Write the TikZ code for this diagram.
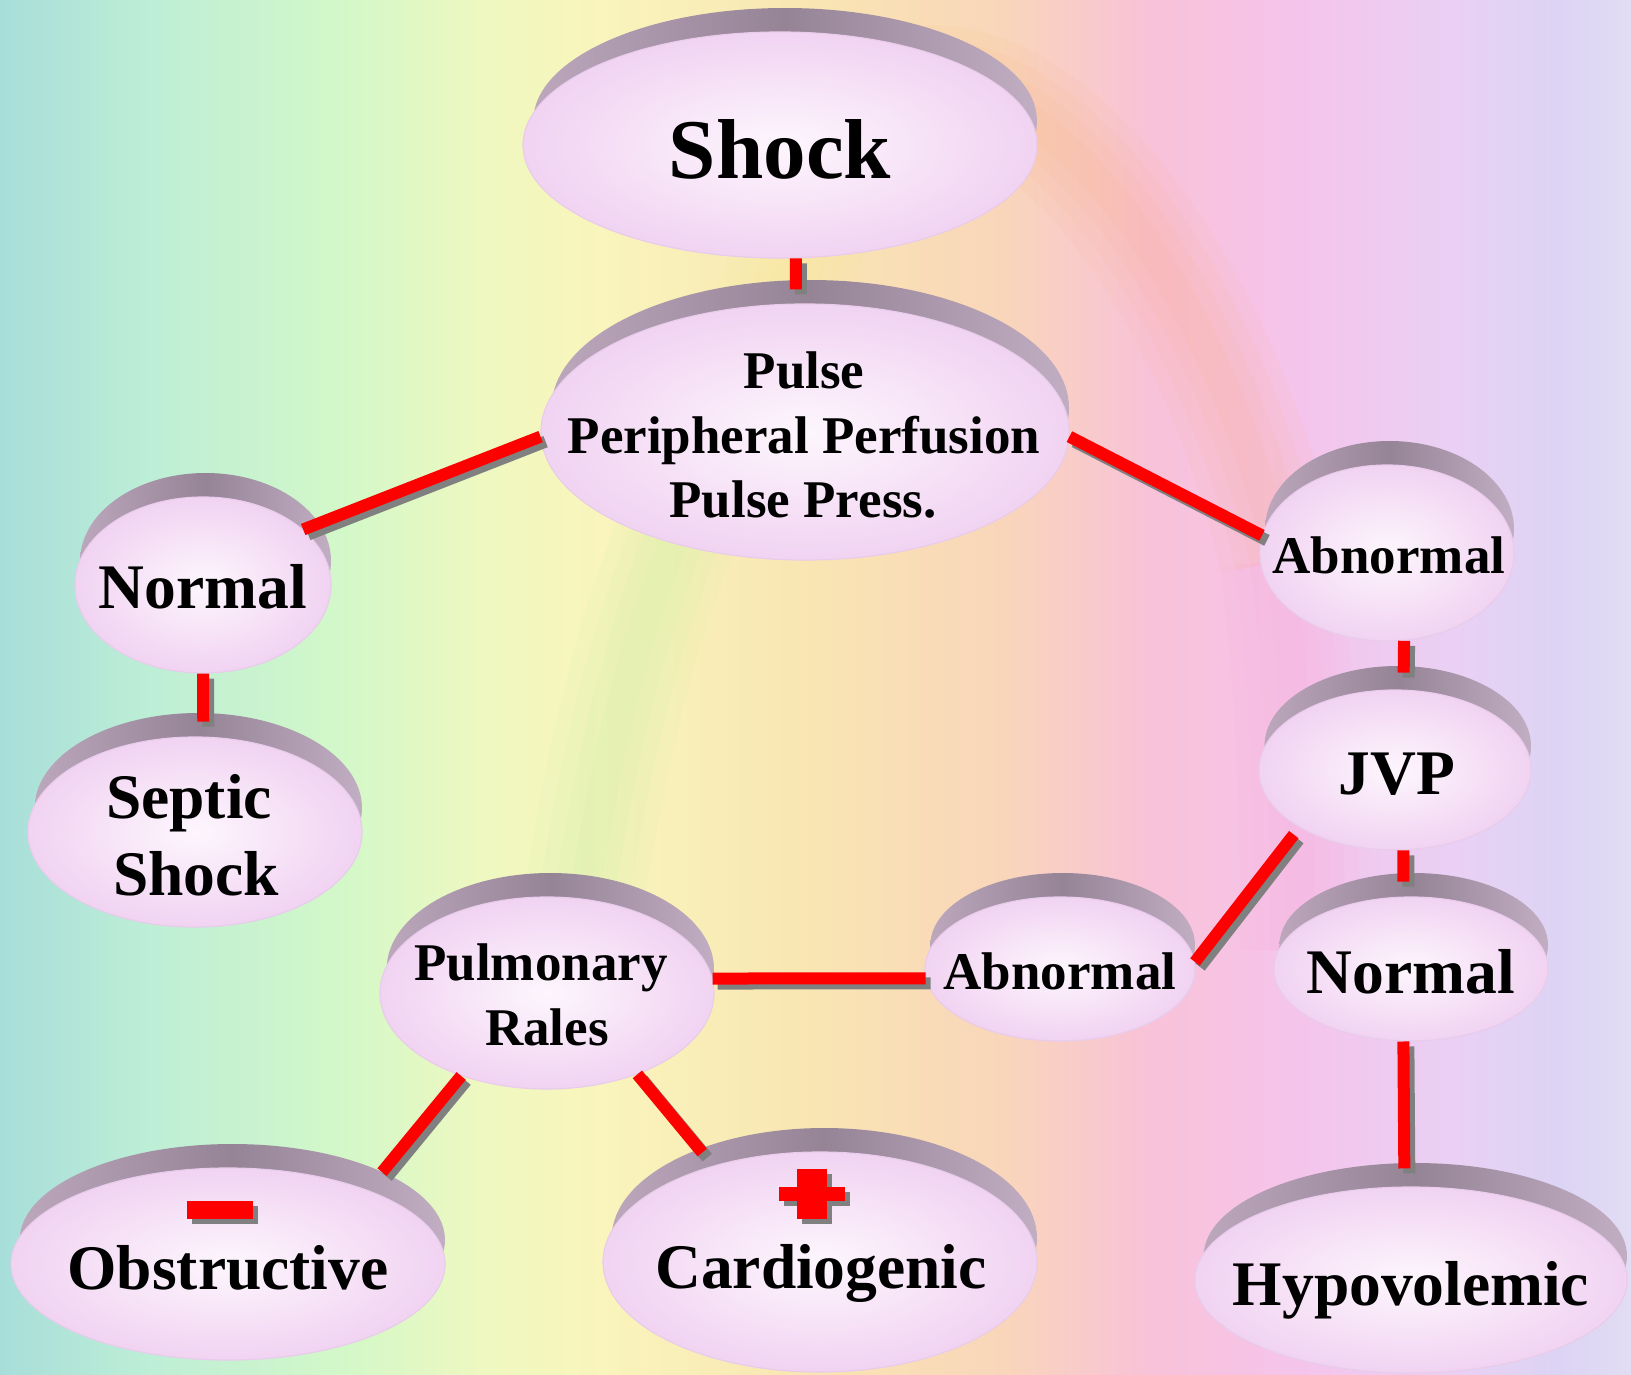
\documentclass[tikz,border=0pt]{standalone}
\usepackage{fontspec}
\setmainfont{Liberation Serif}
\usetikzlibrary{shapes.geometric}
\definecolor{bg0}{HTML}{A8DEDA}
\definecolor{bg1}{HTML}{BDEED6}
\definecolor{bg2}{HTML}{D4F8C8}
\definecolor{bg3}{HTML}{EEF8C0}
\definecolor{bg4}{HTML}{F9F5BC}
\definecolor{bg5}{HTML}{F9E6B2}
\definecolor{bg6}{HTML}{F9D6BA}
\definecolor{bg7}{HTML}{F8C2D8}
\definecolor{bg8}{HTML}{F5C4EC}
\definecolor{bg9}{HTML}{EAD0F4}
\definecolor{bg10}{HTML}{DCD4F4}
\definecolor{bg11}{HTML}{E2DCF4}
\pgfdeclarehorizontalshading{bgrain}{100bp}{color(0bp)=(bg0); color(25bp)=(bg0); color(29.6bp)=(bg1); color(35.73bp)=(bg2); color(39.72bp)=(bg3); color(43.39bp)=(bg4); color(49.52bp)=(bg5); color(55.66bp)=(bg6); color(60.25bp)=(bg7); color(64.85bp)=(bg8); color(69.45bp)=(bg9); color(72.82bp)=(bg10); color(75bp)=(bg11); color(100bp)=(bg11)}
\definecolor{bandL}{HTML}{BCA7BC}
\definecolor{bandM}{HTML}{958396}
\definecolor{bandR}{HTML}{C2AEC3}
\definecolor{faceIn}{HTML}{FDF6FD}
\definecolor{faceOut}{HTML}{F1D3F2}
\definecolor{rim}{HTML}{E9CBEB}
\definecolor{shadowgray}{HTML}{808080}
\definecolor{linkred}{HTML}{FF0000}
\definecolor{arcgreen}{HTML}{A8F0A0}
\definecolor{arcyellow}{HTML}{F8F080}
\definecolor{arcorange}{HTML}{F8A860}
\definecolor{arcpink}{HTML}{F8A0D0}
\tikzset{
  face/.style={ellipse, inner sep=0pt, draw=rim, line width=1.2pt, inner color=faceIn, outer color=faceOut},
  redline/.style={line width=12pt, draw=linkred},
  shadowline/.style={line width=12pt, draw=shadowgray, transform canvas={xshift=5pt,yshift=-5pt}},
  tXL/.style={anchor=base, inner sep=0pt, font=\bfseries\fontsize{85}{90}\selectfont},
  tL/.style={anchor=base, inner sep=0pt, font=\bfseries\fontsize{63.5}{70}\selectfont},
  tM/.style={anchor=base, inner sep=0pt, font=\bfseries\fontsize{53}{60}\selectfont},
  softband/.style={line width=#1, opacity=0.06},
}
\newcommand\backdisk[4]{\shade[left color=bandL,right color=bandR,middle color=bandM] ({#1+0.02*#3},{#2-24}) ellipse [x radius={0.98*#3}, y radius={#4}];}
\newcommand\conline[3][]{\draw[shadowline,#1] #2 -- #3; \draw[redline,#1] #2 -- #3;}
\newcommand\softstroke[2]{\foreach \w in {120,90,60,30}{\draw[softband=\w pt, draw=#1] #2;}}
\begin{document}
\begin{tikzpicture}[x=1pt,y=-1pt]
\useasboundingbox (0,0) rectangle (1631,1374);
% background
\shade[shading=bgrain] (0,0) rectangle (1631,1374);
\softstroke{arcgreen}{(575,960) .. controls (600,780) and (630,640) .. (690,500)}
\softstroke{arcyellow}{(690,500) .. controls (740,380) and (820,180) .. (900,90)}
\softstroke{arcorange}{(900,90) .. controls (1030,50) and (1210,260) .. (1280,560)}
\softstroke{arcpink}{(1280,560) .. controls (1295,680) and (1300,800) .. (1300,950)}
% back disks
\backdisk{780}{145}{257}{113}
\backdisk{805}{432}{264}{128}
\backdisk{203}{585}{128}{88}
\backdisk{195}{832}{167}{95}
\backdisk{1387}{553}{127}{88}
\backdisk{1395}{770}{136}{80}
\backdisk{1411}{969}{137}{72}
\backdisk{1411}{1280}{216}{93}
\backdisk{1060}{969}{135}{72}
\backdisk{547}{993}{167}{96}
\backdisk{228}{1264}{217}{96}
\backdisk{820}{1262}{217}{110}
% front faces
\node[face, minimum width=514pt, minimum height=226pt] (shock) at (780,145) {};
\node[face, minimum width=528pt, minimum height=256pt] (pulse) at (805,432) {};
\node[face, minimum width=256pt, minimum height=176pt] (normL) at (203,585) {};
\node[face, minimum width=334pt, minimum height=190pt] (septic) at (195,832) {};
\node[face, minimum width=254pt, minimum height=176pt] (abnR) at (1387,553) {};
\node[face, minimum width=272pt, minimum height=160pt] (jvp) at (1395,770) {};
\node[face, minimum width=274pt, minimum height=144pt] (normR) at (1411,969) {};
\node[face, minimum width=432pt, minimum height=186pt] (hypo) at (1411,1280) {};
\node[face, minimum width=270pt, minimum height=144pt] (abnM) at (1060,969) {};
\node[face, minimum width=334pt, minimum height=192pt] (pulm) at (547,993) {};
\node[face, minimum width=434pt, minimum height=192pt] (obst) at (228,1264) {};
\node[face, minimum width=434pt, minimum height=220pt] (cardio) at (820,1262) {};
% connectors
\conline[shorten >=14pt]{(shock.278)}{(pulse.94)}
\conline{(pulse.181)}{(normL.29)}
\conline[shorten >=15pt]{(normL.270)}{(septic.85)}
\conline{(pulse.359)}{(abnR.172)}
\conline[shorten >=17pt]{(abnR.281)}{(jvp.84)}
\conline[shorten >=15pt]{(jvp.276)}{(normR.96)}
\conline[shorten <=9pt]{(jvp.211)}{(abnM.3)}
\conline{(abnM.184)}{(pulm.5)}
\conline[shorten >=18pt]{(normR.264)}{(hypo.94)}
\conline[shorten >=23pt]{(pulm.224)}{(obst.28)}
\conline[shorten >=17pt]{(pulm.318)}{(cardio.138)}
% texts
\node[tXL] (shockT) at (780,178) {Shock};
\node[tM] (pulseT1) at (804,388) {Pulse};
\node[tM] (pulseT2) at (804,453) {Peripheral Perfusion};
\node[tM] (pulseT3) at (803,517) {Pulse Press.};
\node[tL] (normLT) at (203,608) {Normal};
\node[tL] (septicT1) at (189,818) {Septic};
\node[tL] (septicT2) at (196,895) {Shock};
\node[tM] (abnRT) at (1389,573) {Abnormal};
\node[tL] (jvpT) at (1397,794) {JVP};
\node[tL] (normRT) at (1411,993) {Normal};
\node[tL] (hypoT) at (1411,1305) {Hypovolemic};
\node[tM] (abnMT) at (1060,989) {Abnormal};
\node[tM] (pulmT1) at (541,980) {Pulmonary};
\node[tM] (pulmT2) at (547,1045) {Rales};
\node[tL] (obstT) at (228,1289) {Obstructive};
\node[tL] (cardioT) at (821,1288) {Cardiogenic};
% minus and plus signs
\fill[shadowgray] (192,1206) rectangle (258,1224);
\fill[linkred] (187,1201) rectangle (253,1219);
\fill[shadowgray] (802,1174) rectangle (832,1224);
\fill[shadowgray] (784,1192) rectangle (850,1206);
\fill[linkred] (797,1169) rectangle (827,1219);
\fill[linkred] (779,1187) rectangle (845,1201);
\end{tikzpicture}
\end{document}
